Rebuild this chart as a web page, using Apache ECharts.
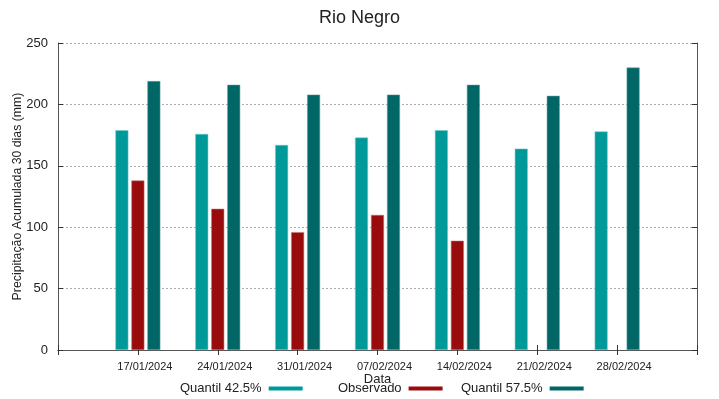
<!DOCTYPE html>
<html>
    <head>
        <meta charset="utf-8">
        <title>Rio Negro</title>
        <script src="https://cdn.jsdelivr.net/npm/echarts@6/dist/echarts.min.js"></script>
        <style>
            html, body { margin: 0; padding: 0; background: #fff; }
        </style>
    </head>
    <body>
        <div id="chart1" style="width:719px;height:399px;"></div>
    </body>
    <script type="text/javascript">
        // datas (com posições vazias nas pontas, como no gnuplot)
        var datas = ['', '17/01/2024', '24/01/2024', '31/01/2024', '07/02/2024', '14/02/2024', '21/02/2024', '28/02/2024', ''];
        var quantil425 = [null, 179, 176, 167, 173, 179, 164, 178, null];
        var observado = [null, 138, 115, 96, 110, 89, null, null, null];
        var quantil575 = [null, 219, 216, 208, 208, 216, 207, 230, null];
        var yTicks = [0, 50, 100, 150, 200, 250];

        var fonte = 'Liberation Sans, Arial, sans-serif';
        var myChart = echarts.init(document.getElementById('chart1'));

        // uma legenda por série, para imitar as colunas fixas do gnuplot
        function legenda(nome, esquerda) {
            return {
                data: [nome],
                left: esquerda,
                top: 377,
                align: 'right',
                icon: 'rect',
                itemWidth: 34,
                itemHeight: 4,
                itemStyle: { borderWidth: 0 },
                textStyle: { fontFamily: fonte, fontSize: 13, color: '#222', padding: [0, 2, 0, 0] }
            };
        }

        myChart.setOption({
            animation: false,
            textStyle: { fontFamily: fonte },
            title: {
                text: 'Rio Negro',
                left: 'center',
                top: 4,
                textStyle: { fontFamily: fonte, fontSize: 18, fontWeight: 'normal', color: '#222' }
            },
            legend: [
                legenda('Quantil 42.5%', 175),
                legenda('Observado', 333),
                legenda('Quantil 57.5%', 456)
            ],
            grid: { left: 58, right: 22, top: 43, bottom: 49, containLabel: false, outerBoundsMode: 'none' },
            xAxis: [{
                type: 'category',
                data: datas,
                boundaryGap: false,
                name: 'Data',
                nameLocation: 'middle',
                nameGap: 23,
                nameMoveOverlap: false,
                nameTextStyle: { fontFamily: fonte, fontSize: 13, color: '#222' },
                axisLine: { lineStyle: { color: '#555', width: 1 } },
                axisTick: { inside: true, length: 5, lineStyle: { color: '#333' } },
                axisLabel: { fontSize: 11, color: '#222', margin: 11, padding: [0, 0, 0, 14] },
                splitLine: { show: false }
            }, {
                type: 'category',
                data: datas,
                boundaryGap: false,
                position: 'top',
                axisLine: { lineStyle: { color: '#555', width: 1 } },
                axisTick: { inside: true, length: 5, lineStyle: { color: '#333' } },
                axisLabel: { show: false }
            }],
            yAxis: [{
                type: 'value',
                min: 0,
                max: 250,
                interval: 50,
                name: 'Precipitação Acumulada 30 dias (mm)',
                nameLocation: 'middle',
                nameGap: 34,
                nameMoveOverlap: false,
                nameTextStyle: { fontFamily: fonte, fontSize: 12.3, color: '#222' },
                axisLine: { show: true, lineStyle: { color: '#555', width: 1 } },
                axisTick: { show: true, inside: true, length: 5, lineStyle: { color: '#333' } },
                axisLabel: {
                    fontSize: 13, color: '#222', margin: 10,
                    formatter: function (v) { return yTicks.indexOf(v) >= 0 ? String(v) : ''; }
                },
                splitLine: { show: true, lineStyle: { color: '#aaa', type: [2, 2], width: 1 } }
            }, {
                type: 'value',
                min: 0,
                max: 250,
                interval: 50,
                position: 'right',
                axisLine: { show: true, lineStyle: { color: '#555', width: 1 } },
                axisTick: { show: true, inside: true, length: 5, lineStyle: { color: '#333' } },
                axisLabel: { show: false },
                splitLine: { show: false }
            }],
            series: [{
                name: 'Quantil 42.5%',
                type: 'bar',
                data: quantil425,
                barWidth: 13,
                barGap: '23%',
                itemStyle: { color: '#009999', borderColor: 'rgba(120,200,200,0.9)', borderWidth: 0.6 }
            }, {
                name: 'Observado',
                type: 'bar',
                data: observado,
                barWidth: 13,
                barGap: '23%',
                itemStyle: { color: '#990c0e', borderColor: 'rgba(200,110,110,0.9)', borderWidth: 0.6 }
            }, {
                name: 'Quantil 57.5%',
                type: 'bar',
                data: quantil575,
                barWidth: 13,
                barGap: '23%',
                itemStyle: { color: '#006666', borderColor: 'rgba(100,160,160,0.9)', borderWidth: 0.6 }
            }]
        });
    </script>
</html>
